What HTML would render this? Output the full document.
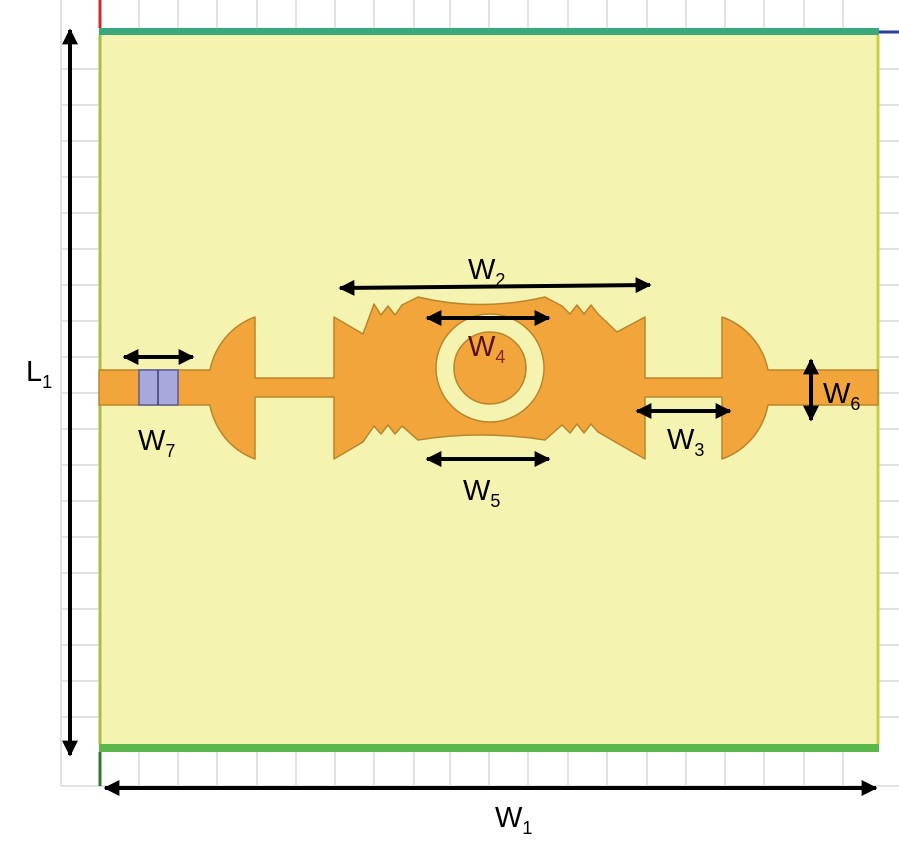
<!DOCTYPE html>
<html><head><meta charset="utf-8"><style>
html,body{margin:0;padding:0;background:#fff;}
svg{display:block;font-family:"Liberation Sans","DejaVu Sans",sans-serif;}
</style></head><body>
<svg width="899" height="858" viewBox="0 0 899 858" xmlns="http://www.w3.org/2000/svg">
<defs>
<marker id="ah" viewBox="0 0 10 10" refX="9" refY="5" markerWidth="4" markerHeight="4" orient="auto-start-reverse"><path d="M0,0 L10,5 L0,10 z" fill="#000"/></marker>
</defs>
<!-- grid -->
<g stroke="#e2e2e2" stroke-width="2">
<line x1="61" y1="0" x2="61" y2="786"/>
<line x1="139" y1="0" x2="139" y2="786"/><line x1="178" y1="0" x2="178" y2="786"/><line x1="217" y1="0" x2="217" y2="786"/><line x1="257" y1="0" x2="257" y2="786"/><line x1="296" y1="0" x2="296" y2="786"/><line x1="335" y1="0" x2="335" y2="786"/><line x1="374" y1="0" x2="374" y2="786"/><line x1="414" y1="0" x2="414" y2="786"/><line x1="450" y1="0" x2="450" y2="786"/><line x1="489" y1="0" x2="489" y2="786"/><line x1="528" y1="0" x2="528" y2="786"/><line x1="568" y1="0" x2="568" y2="786"/><line x1="607" y1="0" x2="607" y2="786"/><line x1="647" y1="0" x2="647" y2="786"/><line x1="686" y1="0" x2="686" y2="786"/><line x1="725" y1="0" x2="725" y2="786"/><line x1="764" y1="0" x2="764" y2="786"/><line x1="804" y1="0" x2="804" y2="786"/><line x1="843" y1="0" x2="843" y2="786"/>
<line x1="61" y1="69" x2="899" y2="69"/><line x1="61" y1="105" x2="899" y2="105"/><line x1="61" y1="141" x2="899" y2="141"/><line x1="61" y1="177" x2="899" y2="177"/><line x1="61" y1="213" x2="899" y2="213"/><line x1="61" y1="249" x2="899" y2="249"/><line x1="61" y1="285" x2="899" y2="285"/><line x1="61" y1="321" x2="899" y2="321"/><line x1="61" y1="357" x2="899" y2="357"/><line x1="61" y1="393" x2="899" y2="393"/><line x1="61" y1="429" x2="899" y2="429"/><line x1="61" y1="465" x2="899" y2="465"/><line x1="61" y1="501" x2="899" y2="501"/><line x1="61" y1="537" x2="899" y2="537"/><line x1="61" y1="573" x2="899" y2="573"/><line x1="61" y1="609" x2="899" y2="609"/><line x1="61" y1="645" x2="899" y2="645"/><line x1="61" y1="681" x2="899" y2="681"/><line x1="61" y1="717" x2="899" y2="717"/><line x1="61" y1="786" x2="899" y2="786"/>
</g>
<!-- axes -->
<line x1="100" y1="0" x2="100" y2="28" stroke="#d9262a" stroke-width="3"/>
<line x1="878" y1="32" x2="899" y2="32" stroke="#2a3d9a" stroke-width="3"/>
<!-- board -->
<rect x="99" y="28" width="780" height="722" fill="#f5f3b0"/>
<rect x="99" y="28" width="780" height="7" fill="#3aa87a"/>
<rect x="99" y="744" width="780" height="8" fill="#5ab84a"/>
<line x1="100" y1="35" x2="100" y2="744" stroke="#a8c040" stroke-width="3"/>
<line x1="878" y1="35" x2="878" y2="744" stroke="#c8d040" stroke-width="3"/>
<line x1="100" y1="752" x2="100" y2="786" stroke="#2e7a30" stroke-width="3"/>
<!-- antenna -->
<g fill="#f2a53a" stroke="#b8862b" stroke-width="1.5" stroke-linejoin="round">
<path d="M99,370 L210,370 A70,71 0 0 1 255,317 L255,378 L334,378 L334,317 L363,334 L374,304 L381,315 L388,306 L395,315 L402,305 L418,297 Q480,312 545,297 L562,306 L570,314 L577,305 L584,314 L591,305 L598,314 L617,332 L645,317 L645,378 L722,378 L722,317 A70,71 0 0 1 768,370 L878,370 L878,405 L768,405 A70,71 0 0 1 722,459 L722,397 L645,397 L645,459 L617,443 L598,432 L591,424 L584,433 L577,424 L570,433 L562,425 L545,440 Q480,430 418,440 L402,426 L395,434 L388,425 L381,434 L374,426 L363,442 L334,459 L334,397 L255,397 L255,459 A70,71 0 0 1 210,405 L99,405 Z"/>
</g>
<circle cx="490" cy="368" r="54" fill="#f5f3b0" stroke="#b8862b" stroke-width="1.5"/>
<circle cx="490" cy="368" r="36" fill="#f2a53a" stroke="#b8862b" stroke-width="1.5"/>
<!-- port -->
<rect x="139" y="370" width="39" height="35" fill="#a9a8dc" stroke="#5b5a9a" stroke-width="1.5"/>
<line x1="158" y1="370" x2="158" y2="405" stroke="#3b3a7a" stroke-width="1.5"/>
<!-- dimension arrows -->
<g stroke="#000" stroke-width="4" fill="none" marker-start="url(#ah)" marker-end="url(#ah)">
<line x1="70" y1="30" x2="70" y2="755"/>
<line x1="105" y1="788" x2="876" y2="788"/>
<line x1="340" y1="288" x2="650" y2="285"/>
<line x1="427" y1="318" x2="549" y2="318"/>
<line x1="427" y1="459" x2="549" y2="459"/>
<line x1="124" y1="357" x2="193" y2="357"/>
<line x1="637" y1="411" x2="730" y2="411"/>
<line x1="811" y1="360" x2="811" y2="420"/>
</g>
<!-- labels -->
<g font-size="29" fill="#000">
<text x="26" y="381">L<tspan font-size="18" dy="7">1</tspan></text>
<text x="495" y="827">W<tspan font-size="18" dy="7">1</tspan></text>
<text x="468" y="279">W<tspan font-size="18" dy="7">2</tspan></text>
<text x="468" y="356" fill="#5a1010">W<tspan font-size="18" dy="7" fill="#8a2a10">4</tspan></text>
<text x="463" y="500">W<tspan font-size="18" dy="7">5</tspan></text>
<text x="138" y="450">W<tspan font-size="18" dy="7">7</tspan></text>
<text x="667" y="449">W<tspan font-size="18" dy="7">3</tspan></text>
<text x="823" y="403">W<tspan font-size="18" dy="7">6</tspan></text>
</g>
</svg>
</body></html>
